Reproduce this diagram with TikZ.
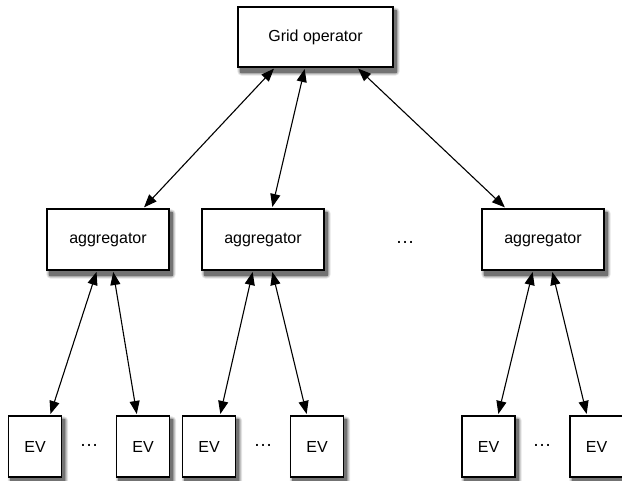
\documentclass[tikz,border=0pt]{standalone}
\usepackage{fontspec}
\setmainfont{Liberation Sans}
\usetikzlibrary{arrows.meta}
\pgfdeclarelayer{bg}
\pgfsetlayers{bg,main}
\newcommand\myshade[1]{%
  \fill[black!10,rounded corners=4pt] ([shift={(0,1)}]#1.north west) rectangle ([shift={(6,8)}]#1.south east);
  \fill[black!22,rounded corners=3pt] ([shift={(1,2)}]#1.north west) rectangle ([shift={(5,7)}]#1.south east);
  \fill[black!38,rounded corners=2pt] ([shift={(2,3)}]#1.north west) rectangle ([shift={(4,6)}]#1.south east);
  \fill[black!55] ([shift={(2.5,3.5)}]#1.north west) rectangle ([shift={(3,5)}]#1.south east);}
\begin{document}
\begin{tikzpicture}[x=1pt,y=-1pt,
  box/.style={draw=black,line width=1.1pt,fill=white,inner sep=0pt,font=\fontsize{16}{18}\selectfont},
  bigbox/.style={box,minimum width=155pt,minimum height=60pt},
  aggbox/.style={box,minimum width=122pt,minimum height=61pt},
  evbox/.style={box,minimum width=53pt,minimum height=61pt},
  link/.style={line width=1.1pt,{Triangle[length=13pt,width=10pt]}-{Triangle[length=13pt,width=10pt]},shorten <=1.5pt,shorten >=1.5pt},
  dots/.style={font=\fontsize{19}{20}\selectfont,inner sep=0pt}]
\useasboundingbox (0,0) rectangle (622,481);
\node[bigbox] (grid) at (315.5,37) {Grid operator};
\node[aggbox] (a1) at (108,239.5) {aggregator};
\node[aggbox] (a2) at (263,239.5) {aggregator};
\node[aggbox] (a3) at (543,239.5) {aggregator};
\node[dots] (dm) at (405,242) {…};
\node[evbox] (e1) at (35,446.5) {EV};
\node[evbox] (e2) at (143,446.5) {EV};
\node[evbox] (e3) at (209,446.5) {EV};
\node[evbox] (e4) at (317,446.5) {EV};
\node[evbox] (e5) at (488.5,446.5) {EV};
\node[evbox] (e6) at (596.5,446.5) {EV};
\node[dots] (d1) at (89,445) {…};
\node[dots] (d2) at (263,445) {…};
\node[dots] (d3) at (542,445) {…};
\begin{pgfonlayer}{bg}
\foreach \n in {grid,a1,a2,a3,e1,e2,e3,e4,e5,e6} {\myshade{\n}}
\end{pgfonlayer}
\draw[link] ([xshift=-40.5pt]grid.south) -- ([xshift=35pt]a1.north);
\draw[link] ([xshift=-10.5pt]grid.south) -- ([xshift=9pt]a2.north);
\draw[link] ([xshift=41.5pt]grid.south) -- ([xshift=-37pt]a3.north);
\draw[link] ([xshift=-11pt]a1.south) -- ([xshift=15pt]e1.north);
\draw[link] ([xshift=5pt]a1.south) -- ([xshift=-6pt]e2.north);
\draw[link] ([xshift=-10pt]a2.south) -- ([xshift=11pt]e3.north);
\draw[link] ([xshift=9pt]a2.south) -- ([xshift=-10pt]e4.north);
\draw[link] ([xshift=-10pt]a3.south) -- ([xshift=9.5pt]e5.north);
\draw[link] ([xshift=9pt]a3.south) -- ([xshift=-9.5pt]e6.north);
\end{tikzpicture}
\end{document}
